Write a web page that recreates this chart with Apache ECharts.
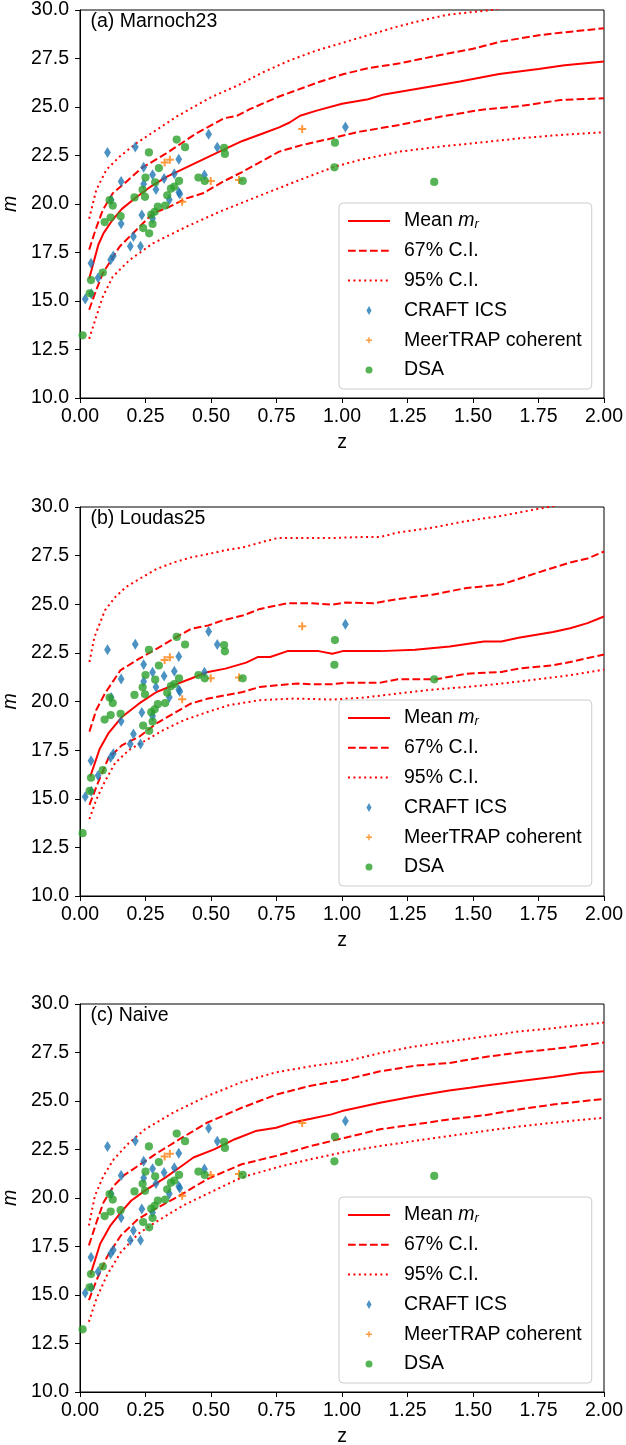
<!DOCTYPE html>
<html><head><meta charset="utf-8">
<script src="https://cdn.jsdelivr.net/npm/echarts@6/dist/echarts.min.js"></script>
<style>html,body{margin:0;padding:0;background:#fff}#c{width:626px;height:1445px}</style>
</head><body><div id="c"></div><script>
// ---- scatter data (z, m) : identical in all three panels ----
const craftICS = [[0.020,15.10],[0.042,16.95],[0.043,15.38],[0.069,16.20],[0.105,22.66],[0.117,17.12],[0.127,17.32],[0.119,20.2],[0.157,21.16],[0.157,18.98],[0.192,17.82],[0.204,18.33],[0.211,22.94],[0.231,17.82],[0.236,19.43],[0.243,21.9],[0.243,21.03],[0.277,21.51],[0.277,19.25],[0.290,20.75],[0.321,21.31],[0.341,20.22],[0.360,21.56],[0.377,22.31],[0.377,20.6],[0.381,20.52],[0.475,21.5],[0.491,23.6],[0.524,22.93],[1.013,23.97]];
const meerTRAP = [[0.323,22.14],[0.343,22.28],[0.390,20.12],[0.499,21.19],[0.607,21.24],[0.848,23.87]];
const dsa = [[0.010,13.23],[0.042,16.08],[0.037,15.40],[0.087,16.47],[0.094,19.07],[0.113,20.2],[0.117,19.3],[0.125,19.92],[0.155,19.37],[0.208,20.34],[0.239,20.73],[0.248,20.37],[0.250,21.36],[0.241,18.76],[0.263,22.66],[0.264,18.49],[0.272,19.45],[0.277,18.97],[0.285,19.6],[0.287,21.12],[0.301,21.85],[0.297,19.86],[0.325,19.92],[0.333,20.45],[0.347,20.79],[0.360,20.9],[0.369,23.32],[0.378,21.19],[0.401,22.93],[0.452,21.36],[0.476,21.19],[0.550,22.9],[0.553,22.58],[0.621,21.19],[0.973,23.16],[0.971,21.89],[1.352,21.14]];

// ---- panel (a) Marnoch23 ----
const aMean = [[0.035,16.15],[0.05,16.9],[0.07,17.9],[0.09,18.5],[0.12,19.1],[0.16,19.75],[0.21,20.3],[0.27,20.9],[0.33,21.4],[0.4,21.85],[0.47,22.3],[0.54,22.75],[0.62,23.25],[0.7,23.65],[0.76,23.95],[0.8,24.2],[0.84,24.55],[0.9,24.8],[1.0,25.17],[1.1,25.4],[1.16,25.65],[1.3,25.97],[1.45,26.31],[1.6,26.7],[1.75,26.96],[1.85,27.15],[2.0,27.34]];
const aUp67 = [[0.035,17.65],[0.06,18.7],[0.087,19.69],[0.125,20.55],[0.177,21.15],[0.234,21.84],[0.329,22.61],[0.444,23.64],[0.55,24.42],[0.6,24.55],[0.65,24.9],[0.76,25.54],[0.915,26.3],[1.007,26.7],[1.1,27.0],[1.221,27.25],[1.375,27.68],[1.5,28.0],[1.605,28.37],[1.758,28.71],[1.834,28.83],[2.0,29.06]];
const aLo67 = [[0.035,14.55],[0.06,15.5],[0.087,16.43],[0.151,17.8],[0.215,18.66],[0.278,19.52],[0.342,19.86],[0.406,20.29],[0.469,20.55],[0.546,21.15],[0.622,21.67],[0.7,22.25],[0.76,22.7],[0.85,23.05],[0.946,23.34],[1.068,23.73],[1.221,24.08],[1.375,24.5],[1.528,24.85],[1.681,25.05],[1.834,25.36],[2.0,25.45]];
const aUp95 = [[0.035,19.24],[0.062,20.72],[0.1,21.75],[0.151,22.44],[0.215,23.13],[0.291,23.81],[0.368,24.5],[0.469,25.27],[0.5,25.5],[0.6,26.1],[0.7,26.8],[0.8,27.4],[0.9,27.9],[1.0,28.3],[1.1,28.7],[1.2,29.1],[1.3,29.45],[1.4,29.75],[1.57,30.0],[1.7,30.35],[2.0,30.9]];
const aLo95 = [[0.035,13.05],[0.062,14.19],[0.087,15.22],[0.125,16.25],[0.189,17.11],[0.278,17.97],[0.406,18.83],[0.533,19.6],[0.724,20.63],[0.85,21.3],[0.973,21.93],[1.068,22.27],[1.221,22.7],[1.375,22.96],[1.528,23.17],[1.681,23.39],[1.834,23.56],[2.0,23.7]];

// ---- panel (b) Loudas25 ----
const bMean = [[0.039,16.14],[0.075,17.56],[0.108,18.36],[0.161,19.22],[0.226,19.9],[0.292,20.49],[0.358,20.84],[0.424,21.18],[0.489,21.52],[0.555,21.69],[0.634,22.0],[0.68,22.29],[0.726,22.29],[0.792,22.59],[0.911,22.59],[0.963,22.46],[1.003,22.59],[1.147,22.59],[1.279,22.66],[1.411,22.83],[1.542,23.09],[1.608,23.09],[1.674,23.28],[1.805,23.57],[1.871,23.77],[1.937,24.03],[2.0,24.37]];
const bUp67 = [[0.036,18.45],[0.062,19.56],[0.095,20.41],[0.154,21.6],[0.226,22.2],[0.292,22.71],[0.358,23.23],[0.424,23.74],[0.489,23.91],[0.542,24.16],[0.621,24.42],[0.687,24.76],[0.792,25.05],[0.884,25.05],[0.963,24.98],[1.016,25.09],[1.121,25.05],[1.213,25.27],[1.345,25.49],[1.476,25.84],[1.608,26.01],[1.739,26.59],[1.871,27.15],[1.937,27.35],[2.0,27.71]];
const bLo67 = [[0.036,14.69],[0.068,15.8],[0.108,17.08],[0.161,17.76],[0.226,18.19],[0.292,18.87],[0.358,19.39],[0.424,19.9],[0.489,20.15],[0.555,20.32],[0.621,20.49],[0.687,20.75],[0.753,20.84],[0.832,20.92],[0.884,20.89],[0.963,20.89],[1.016,20.97],[1.147,20.97],[1.213,21.14],[1.358,21.14],[1.476,21.43],[1.608,21.52],[1.674,21.69],[1.805,21.86],[1.871,22.03],[2.0,22.42]];
const bUp95 = [[0.036,22.03],[0.055,23.31],[0.095,24.68],[0.134,25.36],[0.174,25.87],[0.226,26.3],[0.292,26.81],[0.358,27.15],[0.424,27.41],[0.489,27.58],[0.555,27.78],[0.621,27.92],[0.687,28.17],[0.753,28.4],[0.884,28.4],[0.95,28.4],[1.082,28.46],[1.147,28.46],[1.213,28.69],[1.345,28.94],[1.476,29.28],[1.608,29.54],[1.739,29.88],[1.85,30.15],[2.0,30.5]];
const bLo95 = [[0.036,13.96],[0.062,14.95],[0.095,15.89],[0.134,16.83],[0.187,17.51],[0.253,18.02],[0.318,18.53],[0.397,19.04],[0.489,19.47],[0.568,19.81],[0.687,20.07],[0.818,20.15],[0.963,20.1],[1.082,20.2],[1.213,20.41],[1.345,20.61],[1.476,20.75],[1.608,20.92],[1.739,21.13],[1.871,21.35],[2.0,21.64]];

// ---- panel (c) Naive ----
const cMean = [[0.04,16.05],[0.077,17.64],[0.116,18.58],[0.156,19.26],[0.195,19.86],[0.248,20.38],[0.327,21.06],[0.38,21.57],[0.433,22.09],[0.512,22.51],[0.591,23.03],[0.67,23.45],[0.749,23.62],[0.815,23.91],[0.881,24.09],[0.96,24.31],[1.0,24.48],[1.145,24.91],[1.277,25.25],[1.409,25.54],[1.488,25.68],[1.541,25.79],[1.673,26.02],[1.805,26.24],[1.91,26.44],[2.0,26.53]];
const cUp67 = [[0.034,17.56],[0.063,18.75],[0.09,19.78],[0.129,20.63],[0.169,21.18],[0.222,21.66],[0.288,22.26],[0.38,23.03],[0.485,23.88],[0.617,24.65],[0.749,25.33],[0.881,25.79],[1.013,26.1],[1.145,26.53],[1.277,26.82],[1.409,26.96],[1.541,27.26],[1.673,27.5],[1.805,27.68],[1.91,27.85],[2.0,28.02]];
const cLo67 = [[0.034,14.74],[0.063,15.76],[0.103,16.96],[0.156,18.07],[0.222,18.92],[0.288,19.44],[0.38,20.12],[0.485,20.97],[0.617,21.74],[0.749,22.17],[0.881,22.68],[1.013,23.11],[1.145,23.54],[1.277,23.79],[1.409,24.05],[1.541,24.26],[1.673,24.56],[1.805,24.82],[2.0,25.11]];
const cUp95 = [[0.034,18.58],[0.057,20.12],[0.09,21.15],[0.129,22.0],[0.182,22.77],[0.248,23.54],[0.354,24.39],[0.485,25.25],[0.617,25.97],[0.749,26.48],[0.881,26.79],[1.013,27.04],[1.145,27.47],[1.277,27.81],[1.409,28.07],[1.541,28.32],[1.673,28.58],[1.805,28.75],[1.91,28.92],[2.0,29.04]];
const cLo95 = [[0.034,13.62],[0.063,14.82],[0.103,16.02],[0.156,17.21],[0.222,18.15],[0.288,18.75],[0.393,19.61],[0.485,20.21],[0.617,21.06],[0.749,21.57],[0.881,22.0],[1.013,22.38],[1.145,22.68],[1.277,22.94],[1.409,23.2],[1.541,23.45],[1.673,23.68],[1.805,23.88],[2.0,24.14]];

const panelTitles = ['(a) Marnoch23', '(b) Loudas25', '(c) Naive'];
const curveNames = ['Mean m_r', '67% C.I.', '95% C.I.'];
const scatterNames = ['CRAFT ICS', 'MeerTRAP coherent', 'DSA'];
const panelCurves = [
  [aMean, aUp67, aLo67, aUp95, aLo95],
  [bMean, bUp67, bLo67, bUp95, bLo95],
  [cMean, cUp67, cLo67, cUp95, cLo95]
];
const xTicks = {min: 0, max: 2, step: 0.25};
const yTicks = {min: 10, max: 30, step: 2.5};

// ---- layout / style ----
const FONT = 'Liberation Sans, Arial, sans-serif';
const FS = 19.5;
const RED = '#ff0000', BLUE = '#1f77b4', ORANGE = '#ff7f0e', GREEN = '#2ca02c';
const gridPos = [{top: 10, height: 388}, {top: 507, height: 389}, {top: 1004, height: 388}];
const DASH = [7.7, 3.3], DOT = [2, 3.4];
const PLUS = 'path://M3,0 L5,0 L5,3 L8,3 L8,5 L5,5 L5,8 L3,8 L3,5 L0,5 L0,3 L3,3 Z';
const lgIcon = {
  'CRAFT ICS': 'path://M0,0 M42,14 M21,2.5 L23.5,7 L21,11.5 L18.5,7 Z',
  'MeerTRAP coherent': 'path://M0,0 M42,14 M20.3,4 L21.7,4 L21.7,6.3 L24,6.3 L24,7.7 L21.7,7.7 L21.7,10 L20.3,10 L20.3,7.7 L18,7.7 L18,6.3 L20.3,6.3 Z',
  'DSA': 'path://M0,0 M42,14 M24.5,7 A3.5,3.5 0 1 1 17.5,7 A3.5,3.5 0 1 1 24.5,7 Z'
};

const chart = echarts.init(document.getElementById('c'), null, {renderer: 'canvas'});
const grid = [], xAxis = [], yAxis = [], series = [], legend = [], title = [];
const axisCommon = {
  axisLine: {show: true, onZero: false, lineStyle: {color: '#000', width: 1}},
  axisTick: {show: true, length: 5, inside: false, lineStyle: {color: '#000', width: 1}},
  splitLine: {show: false},
  nameLocation: 'middle'
};
gridPos.forEach((g, i) => {
  grid.push({left: 80, width: 524, top: g.top, height: g.height, show: true, borderColor: '#000', borderWidth: 1,
    containLabel: false, outerBoundsMode: 'none'});
  xAxis.push(Object.assign({}, axisCommon, {
    gridIndex: i, type: 'value', min: xTicks.min, max: xTicks.max, interval: xTicks.step,
    name: 'z', nameGap: 35, nameTextStyle: {fontFamily: FONT, fontSize: FS, color: '#000'},
    axisLabel: {fontFamily: FONT, fontSize: FS, color: '#000', margin: 9, showMinLabel: true, showMaxLabel: true, formatter: v => v.toFixed(2)}
  }));
  yAxis.push(Object.assign({}, axisCommon, {
    gridIndex: i, type: 'value', min: yTicks.min, max: yTicks.max, interval: yTicks.step,
    name: 'm', nameGap: 55, nameTextStyle: {fontFamily: FONT, fontSize: FS, fontStyle: 'italic', color: '#000'},
    axisLabel: {fontFamily: FONT, fontSize: FS, color: '#000', margin: 11, showMinLabel: true, showMaxLabel: true, formatter: v => v.toFixed(1)}
  }));
  title.push({text: panelTitles[i], left: 85.5, top: g.top - 3,
    textStyle: {fontFamily: FONT, fontSize: FS, fontWeight: 'normal', color: '#000'}});
  const cv = panelCurves[i];
  const lineDefs = [
    [curveNames[0], cv[0], 'solid'],
    [curveNames[1], cv[1], DASH],
    [curveNames[1], cv[2], DASH],
    [curveNames[2], cv[3], DOT],
    [curveNames[2], cv[4], DOT]
  ];
  lineDefs.forEach(d => series.push({
    type: 'line', name: d[0], xAxisIndex: i, yAxisIndex: i, data: d[1], symbol: 'none',
    showSymbol: false, clip: true, silent: true, z: 2,
    lineStyle: {color: RED, width: 2, type: d[2], cap: 'butt'}, itemStyle: {color: RED}
  }));
  series.push({type: 'scatter', name: scatterNames[0], xAxisIndex: i, yAxisIndex: i, data: craftICS,
    symbol: 'diamond', symbolSize: [6.8, 11], itemStyle: {color: BLUE}, z: 3, silent: true});
  series.push({type: 'scatter', name: scatterNames[1], xAxisIndex: i, yAxisIndex: i, data: meerTRAP,
    symbol: PLUS, symbolSize: 8, itemStyle: {color: ORANGE}, z: 4, silent: true});
  series.push({type: 'scatter', name: scatterNames[2], xAxisIndex: i, yAxisIndex: i, data: dsa,
    symbol: 'circle', symbolSize: 8.2, itemStyle: {color: GREEN}, z: 5, silent: true});
  legend.push({
    orient: 'vertical', left: 339, top: g.top + 193,
    data: curveNames.map(n => ({name: n, itemStyle: {opacity: 0}}))
      .concat(scatterNames.map(n => ({name: n, icon: lgIcon[n]}))),
    itemWidth: 42, itemHeight: 14, itemGap: 9.8,
    padding: [8, 10, 9, 8],
    backgroundColor: 'rgba(255,255,255,0.8)', borderColor: '#cccccc', borderWidth: 1, borderRadius: 4,
    selectedMode: false,
    formatter: n => n === 'Mean m_r' ? '{t|Mean }{i|m}{s|r}' : n,
    textStyle: {fontFamily: FONT, fontSize: FS, color: '#000', lineHeight: 20, padding: [0, 0, 0, 9],
      rich: {
        t: {fontFamily: FONT, fontSize: FS, color: '#000', lineHeight: 20},
        i: {fontFamily: FONT, fontSize: FS, fontStyle: 'italic', color: '#000', lineHeight: 20},
        s: {fontFamily: FONT, fontSize: 13, fontStyle: 'italic', color: '#000', lineHeight: 14, padding: [7, 0, 0, 0]}
      }}
  });
});
chart.setOption({animation: false, backgroundColor: '#fff', grid, xAxis, yAxis, series, legend, title});
</script></body></html>
